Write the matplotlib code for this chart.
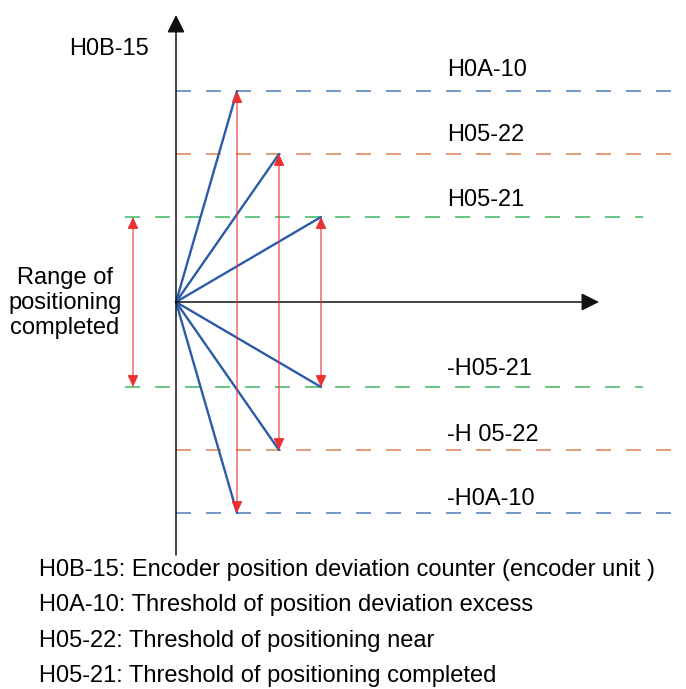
import matplotlib
matplotlib.use('Agg')
import matplotlib.pyplot as plt

plt.rcParams['font.family'] = ['Liberation Sans', 'DejaVu Sans']
plt.rcParams['lines.scale_dashes'] = False

# diagram units (origin where the axes cross, y up)
thresholds = [211, 148, 85]          # H0A-10, H05-22, H05-21
tip_x = [61, 103, 145]               # where each deviation line hits its threshold
dash_colors = ['#4f7bbd', '#de8350', '#3fb660']
label_names = ['H0A-10', 'H05-22', 'H05-21']
label_y_pos = [232, 167, 102]
label_y_neg = [-197, -133, -67]
neg_names = ['-H0A-10', '-H 05-22', '-H05-21']
notes = [
    'H0B-15: Encoder position deviation counter (encoder unit )',
    'H0A-10: Threshold of position deviation excess',
    'H05-22: Threshold of positioning near',
    'H05-21: Threshold of positioning completed',
]
note_y = [-268, -303, -339, -374]

fig = plt.figure(figsize=(6.86, 6.89), dpi=100)
ax = fig.add_axes([0, 0, 1, 1])
ax.set_xlim(-176, 510)
ax.set_ylim(-387, 302)
ax.axis('off')

FS = 17
red = '#ec3034'
blue = '#2b5ba8'

# axes arrows
ax.annotate('', xy=(0, 287), xytext=(0, -253),
            arrowprops=dict(arrowstyle='-|>,head_length=10.8,head_width=5.4',
                            mutation_scale=1, color='#111111', lw=1.1,
                            shrinkA=0, shrinkB=0))
ax.annotate('', xy=(423, 0), xytext=(0, 0),
            arrowprops=dict(arrowstyle='-|>,head_length=10.8,head_width=5.4',
                            mutation_scale=1, color='#111111', lw=1.1,
                            shrinkA=0, shrinkB=0))

# threshold dashed lines
for i, lvl in enumerate(thresholds):
    if i == 2:
        x0, x1 = -51, 467
    else:
        x0, x1 = 0, 510
    for s in (1, -1):
        ax.plot([x0, x1], [s * lvl, s * lvl], color=dash_colors[i], lw=1.1,
                linestyle=(0, (10.8, 10.8)))

# deviation lines and double arrows
for lvl, tx in zip(thresholds, tip_x):
    for s in (1, -1):
        ax.plot([0, tx], [0, s * lvl], color=blue, lw=1.7, solid_capstyle='round')
    ax.annotate('', xy=(tx, lvl), xytext=(tx, -lvl),
                arrowprops=dict(arrowstyle='<|-|>,head_length=7.2,head_width=3.3',
                                mutation_scale=1, color=red, lw=0.8,
                                shrinkA=0, shrinkB=0))

# range of positioning completed
ax.annotate('', xy=(-43, thresholds[2]), xytext=(-43, -thresholds[2]),
            arrowprops=dict(arrowstyle='<|-|>,head_length=7.2,head_width=3.3',
                            mutation_scale=1, color=red, lw=0.8,
                            shrinkA=0, shrinkB=0))
ax.text(-111, -1, 'Range of\npositioning\ncompleted', ha='center', va='center',
        fontsize=FS, linespacing=1.2)

ax.text(-107, 253, 'H0B-15', ha='left', va='center', fontsize=FS)
for name, y in zip(label_names, label_y_pos):
    ax.text(271, y, name, ha='left', va='center', fontsize=FS)
for name, y in zip(neg_names, label_y_neg):
    ax.text(271, y, name, ha='left', va='center', fontsize=FS)

for t, y in zip(notes, note_y):
    ax.text(-137, y, t, ha='left', va='center', fontsize=FS)

fig.savefig('out.png', dpi=100)
